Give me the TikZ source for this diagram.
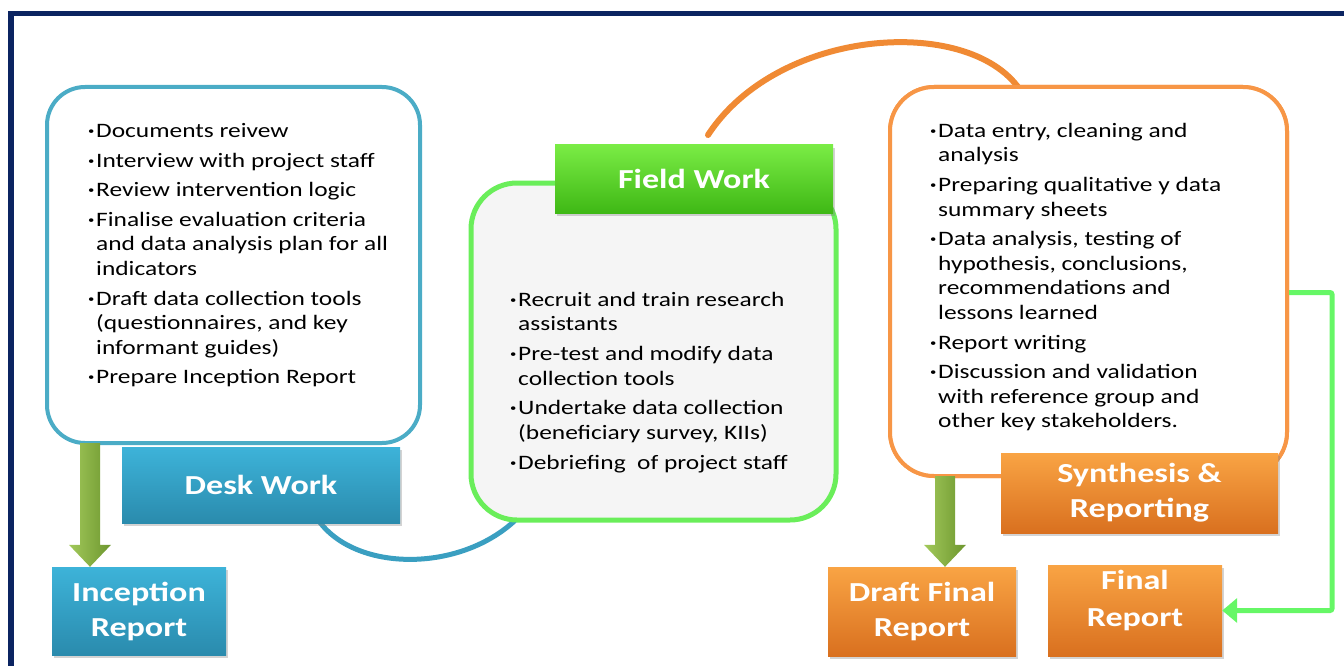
\documentclass[tikz,border=0pt]{standalone}
\usepackage{fontspec}
\setmainfont{Carlito}[FakeStretch=1.24]
\usepackage{graphicx}
\usepackage{tikz}
\usetikzlibrary{arrows.meta,positioning,calc,shadows}

\definecolor{frameNavy}{HTML}{0B2461}
\definecolor{deskLine}{HTML}{4BACC6}
\definecolor{deskTop}{HTML}{3DB3D9}
\definecolor{deskBot}{HTML}{2A8BAD}
\definecolor{fieldLine}{HTML}{6AEE5A}
\definecolor{fieldFill}{HTML}{F5F5F5}
\definecolor{fieldTop}{HTML}{7AEC45}
\definecolor{fieldBot}{HTML}{3FB815}
\definecolor{synLine}{HTML}{F79646}
\definecolor{synTop}{HTML}{F9A444}
\definecolor{synBot}{HTML}{D9701F}
\definecolor{oliveL}{HTML}{A2C95A}
\definecolor{oliveD}{HTML}{6D962F}
\definecolor{linkGreen}{HTML}{66F766}
\definecolor{linkTeal}{HTML}{3A9FC1}
\definecolor{linkOrange}{HTML}{F08A34}

% small bullet and hanging indent for the task lists
\newcommand{\bul}{\makebox[8pt][l]{\raisebox{0.3ex}{\scalebox{0.5}{\textbullet}}}}
\newcommand{\ind}{\hspace*{8pt}}

% broad shaded arrow pointing down from #1 to #2
\newcommand{\fatdown}[2]{%
  \path[fat] ($(#1)+(-10,0)$) -- ($(#2)+(-10,-22)$) -- ($(#2)+(-21,-22)$)
    -- (#2) -- ($(#2)+(21,-22)$) -- ($(#2)+(10,-22)$) -- ($(#1)+(10,0)$) -- cycle;}

\begin{document}
\begin{tikzpicture}[
  x=1pt, y=-1pt,
  font=\fontsize{20.5}{24.5}\selectfont,
  >=Latex,
  panel/.style={draw, line width=4pt, rounded corners=38pt, inner sep=0pt},
  tag/.style={
    rectangle,
    text=white,
    font=\fontsize{27.5}{35}\selectfont\bfseries,
    align=center,
    inner sep=0pt,
    drop shadow={opacity=0.35, shadow xshift=2pt, shadow yshift=-3pt}
  },
  bluetag/.style={tag, top color=deskTop, bottom color=deskBot},
  greentag/.style={tag, top color=fieldTop, bottom color=fieldBot},
  orangetag/.style={tag, top color=synTop, bottom color=synBot},
  bullets/.style={anchor=north west, align=left, inner sep=0pt},
  fat/.style={left color=oliveL, right color=oliveD},
  link/.style={line width=5pt, line cap=round}
]
  \useasboundingbox (0,0) rectangle (1344,666);

  % frame
  \draw[frameNavy, line width=5.5pt] (11,680) -- (11,13.5) -- (1350,13.5);

  \coordinate (deskOut) at (90,443);
  \coordinate (synOut) at (945,476);

  % phase panels
  \node[panel, draw=deskLine, fill=white, minimum width=373pt, minimum height=356pt]
    (deskBox) at (233.5,265) {};
  \node[panel, draw=synLine, fill=white, minimum width=397pt, minimum height=389pt,
    rounded corners=44pt] (synBox) at (1088.5,281.5) {};

  % curved links between the panels
  \draw[link, linkTeal] (315,515) .. controls +(35,60) and +(-55,65) .. (525,510);
  \draw[link, linkOrange, line width=6pt] (708,135) .. controls +(72,-110) and +(-47,-78) .. (1022,93);
  \node[panel, draw=synLine, fill=white, minimum width=397pt, minimum height=389pt,
    rounded corners=44pt] at (synBox) {};

  \node[panel, draw=fieldLine, fill=fieldFill, line width=5pt, minimum width=365pt,
    minimum height=337pt, rounded corners=46pt] (fieldBox) at (653.5,351.5) {};

  % outputs
  \node[bluetag, minimum width=174pt, minimum height=88pt] (incep) at (139,611)
    {Inception\\Report};
  \node[orangetag, minimum width=188pt, minimum height=89pt] (draftRep) at (922,611.5)
    {Draft Final\\Report};
  \node[orangetag, minimum width=174pt, minimum height=91pt] (finalRep) at (1135,610.5)
    {\raisebox{10pt}[\height][\depth]{\begin{tabular}{@{}c@{}}Final\\[2pt]Report\end{tabular}}};

  \fatdown{deskOut}{incep.north -| deskOut}
  \fatdown{synOut}{draftRep.north -| synOut}

  % phase titles
  \node[bluetag, minimum width=278pt, minimum height=76pt] (deskTag) at (261,485)
    {Desk Work};
  \node[greentag, minimum width=278pt, minimum height=68pt] (fieldTag) at (694,179)
    {Field Work};
  \node[orangetag, minimum width=277pt, minimum height=80pt] (synTag) at (1139.5,493)
    {Synthesis \&\\Reporting};

  \draw[linkGreen, line width=5pt, rounded corners=2pt, -{Triangle[length=15pt,width=24pt]}]
    ([yshift=-11pt]synBox.east) -- ++(43,0) |- (finalRep.east);

  % task lists
  \node[bullets] (deskList) at (88,123) {%
    \bul Documents reivew\\[5.2pt]
    \bul Interview with project staff\\[5.2pt]
    \bul Review intervention logic\\[5.2pt]
    \bul Finalise evaluation criteria\\
    \ind and data analysis plan for all\\
    \ind indicators\\[5.2pt]
    \bul Draft data collection tools\\
    \ind (questionnaires, and key\\
    \ind informant guides)\\[5.2pt]
    \bul Prepare Inception Report};
  \node[bullets] (fieldList) at (510,292) {%
    \bul Recruit and train research\\
    \ind assistants\\[5.2pt]
    \bul Pre-test and modify data\\
    \ind collection tools\\[5.2pt]
    \bul Undertake data collection\\
    \ind (beneficiary survey, KIIs)\\[5.2pt]
    \bul Debriefing\ \ of project staff};
  \node[bullets] (synList) at (930,123) {%
    \bul Data entry, cleaning and\\
    \ind analysis\\[5.2pt]
    \bul Preparing qualitative y data\\
    \ind summary sheets\\[5.2pt]
    \bul Data analysis, testing of\\
    \ind hypothesis, conclusions,\\
    \ind recommendations and\\
    \ind lessons learned\\[5.2pt]
    \bul Report writing\\[5.2pt]
    \bul Discussion and validation\\
    \ind with reference group and\\
    \ind other key stakeholders.};
\end{tikzpicture}
\end{document}
